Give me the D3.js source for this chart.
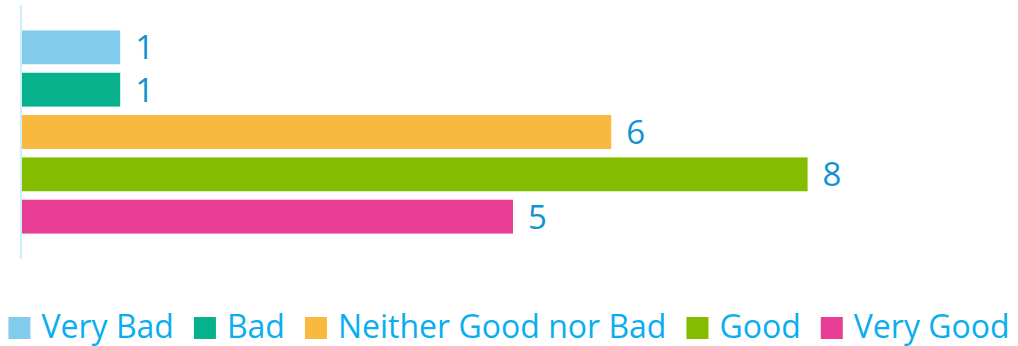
<!DOCTYPE html>
<html>
<head>
<meta charset="utf-8">
<script src="https://cdn.jsdelivr.net/npm/d3@7"></script>
<style>
  html, body { margin: 0; padding: 0; background: #fff; }
  svg { display: block; }
  text { font-family: "Open Sans", "Noto Sans", sans-serif; }
</style>
</head>
<body>
<svg id="chart" width="1018" height="346"></svg>
<script>
// Survey responses by rating
const categories = ["Very Bad", "Bad", "Neither Good nor Bad", "Good", "Very Good"];
const counts = [1, 1, 6, 8, 5];
const colors = ["#83cbec", "#06b18b", "#f9b93f", "#84bd00", "#e83e96"];
const xDomain = [0, 10];

const svg = d3.select("#chart");
const W = 1018, H = 346;

const x = d3.scaleLinear().domain(xDomain).range([22, 1004]);
const y = d3.scaleBand().domain(categories).range([5, 259])
  .paddingInner(0.2).paddingOuter(0.6);

// vertical baseline
svg.append("line")
  .attr("x1", 21).attr("x2", 21)
  .attr("y1", 5).attr("y2", 259)
  .attr("stroke", "#cdeefb").attr("stroke-width", 2);

// bars
svg.append("g").selectAll("rect")
  .data(categories)
  .join("rect")
  .attr("x", x(0))
  .attr("y", d => y(d))
  .attr("width", (d, i) => x(counts[i]) - x(0))
  .attr("height", y.bandwidth())
  .attr("fill", (d, i) => colors[i]);

// value labels
svg.append("g").selectAll("text")
  .data(categories)
  .join("text")
  .attr("x", (d, i) => x(counts[i]) + 15)
  .attr("y", d => y(d) + y.bandwidth() / 2)
  .attr("dy", "0.36em")
  .attr("font-size", 33)
  .attr("fill", "#1193d3")
  .text((d, i) => counts[i]);

// legend
const legend = svg.append("g");
const sw = 22, gapText = 11, gapItem = 20;
const items = legend.selectAll("g")
  .data(categories)
  .join("g");
items.append("rect")
  .attr("width", sw).attr("height", sw)
  .attr("y", -sw / 2)
  .attr("fill", (d, i) => colors[i]);
items.append("text")
  .attr("x", sw + gapText)
  .attr("y", 10)
  .attr("font-size", 32)
  .attr("fill", "#0aaeef")
  .text(d => d);

let cx = 0;
const widths = [];
items.each(function() {
  const w = sw + gapText + d3.select(this).select("text").node().getComputedTextLength();
  widths.push(w);
});
const total = d3.sum(widths) + gapItem * (widths.length - 1);
cx = (W - total) / 2;
items.attr("transform", (d, i) => {
  const t = `translate(${cx},328)`;
  cx += widths[i] + gapItem;
  return t;
});
</script>
</body>
</html>
